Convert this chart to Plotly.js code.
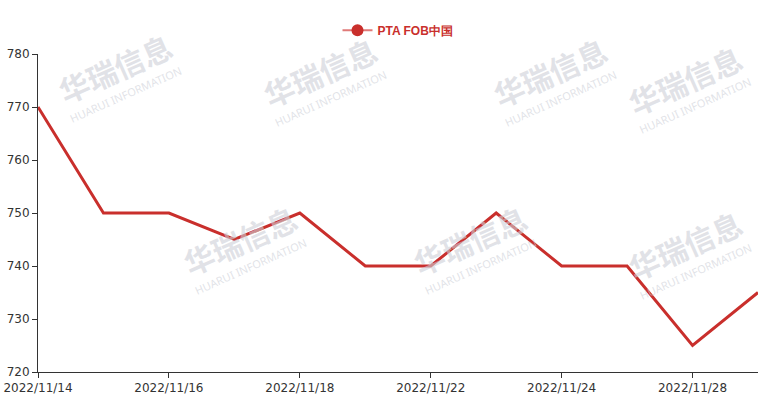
<!DOCTYPE html>
<html>
<head>
<meta charset="utf-8">
<script src="https://cdn.plot.ly/plotly-3.0.1.min.js"></script>
<style>html,body{margin:0;padding:0;background:#fff;}#chart{width:765px;height:408px;}</style>
</head>
<body>
<div id="chart"></div>
<script>
const dates = ["2022/11/14","2022/11/15","2022/11/16","2022/11/17","2022/11/18","2022/11/21","2022/11/22","2022/11/23","2022/11/24","2022/11/25","2022/11/28","2022/11/29"];
const values = [770,750,750,745,750,740,740,750,740,740,725,735];
const tickLabels = ["2022/11/14","2022/11/16","2022/11/18","2022/11/22","2022/11/24","2022/11/28"];
const seriesName = "PTA FOB中国";

const wm = [];
const wmPos = [[115,68],[320,72],[550,72],[685,80],[240,240],[470,240],[685,245]];
wmPos.forEach(p => {
  wm.push({xref:'paper',yref:'paper',x:(p[0]-38)/720,y:1-(p[1]-54)/318,xanchor:'center',yanchor:'middle',
    text:'<b>华瑞信息</b>',showarrow:false,
    font:{size:30,color:'rgba(205,207,215,0.6)',family:'Noto Sans CJK SC'},textangle:-24});
  wm.push({xref:'paper',yref:'paper',x:(p[0]+10-38)/720,y:1-(p[1]+26-54)/318,xanchor:'center',yanchor:'middle',
    text:'HUARUI INFORMATION',showarrow:false,
    font:{size:11,color:'rgba(205,207,215,0.6)',family:'Noto Sans'},textangle:-24});
});

const trace = {
  x: dates, y: values, type:'scatter', mode:'lines', name: seriesName,
  line:{color:'#c92f2c', width:3},
  showlegend:false
};
const legendTrace = {
  x:[null], y:[null], type:'scatter', mode:'lines+markers', name: '<b>'+seriesName+'</b>',
  line:{color:'#e07a78', width:2}, marker:{size:12,color:'#c92f2c'}
};
const layout = {
  width:765, height:408,
  margin:{l:38, r:7, t:54, b:36},
  paper_bgcolor:'#fff', plot_bgcolor:'#fff',
  showlegend:true,
  legend:{orientation:'h', x:0.5, xanchor:'center', y:1.075, yanchor:'middle',
    font:{size:12, color:'#c92f2c', family:'Liberation Sans, Arial'}, itemwidth:30},
  xaxis:{type:'category', range:[0,11], tickmode:'array', tickvals:tickLabels, ticktext:tickLabels,
    showgrid:false, zeroline:false, showline:true, linecolor:'#333', linewidth:1,
    ticks:'outside', ticklen:5, tickcolor:'#333',
    tickfont:{size:12, color:'#333', family:'DejaVu Sans'}, fixedrange:true},
  yaxis:{range:[720,780], dtick:10, showgrid:false, zeroline:false, showline:true, linecolor:'#333', linewidth:1,
    ticks:'outside', ticklen:5, tickcolor:'#333',
    tickfont:{size:12, color:'#333', family:'DejaVu Sans'}},
  annotations: wm
};
Plotly.newPlot('chart',[trace, legendTrace],layout,{displayModeBar:false, staticPlot:true});
</script>
</body>
</html>
